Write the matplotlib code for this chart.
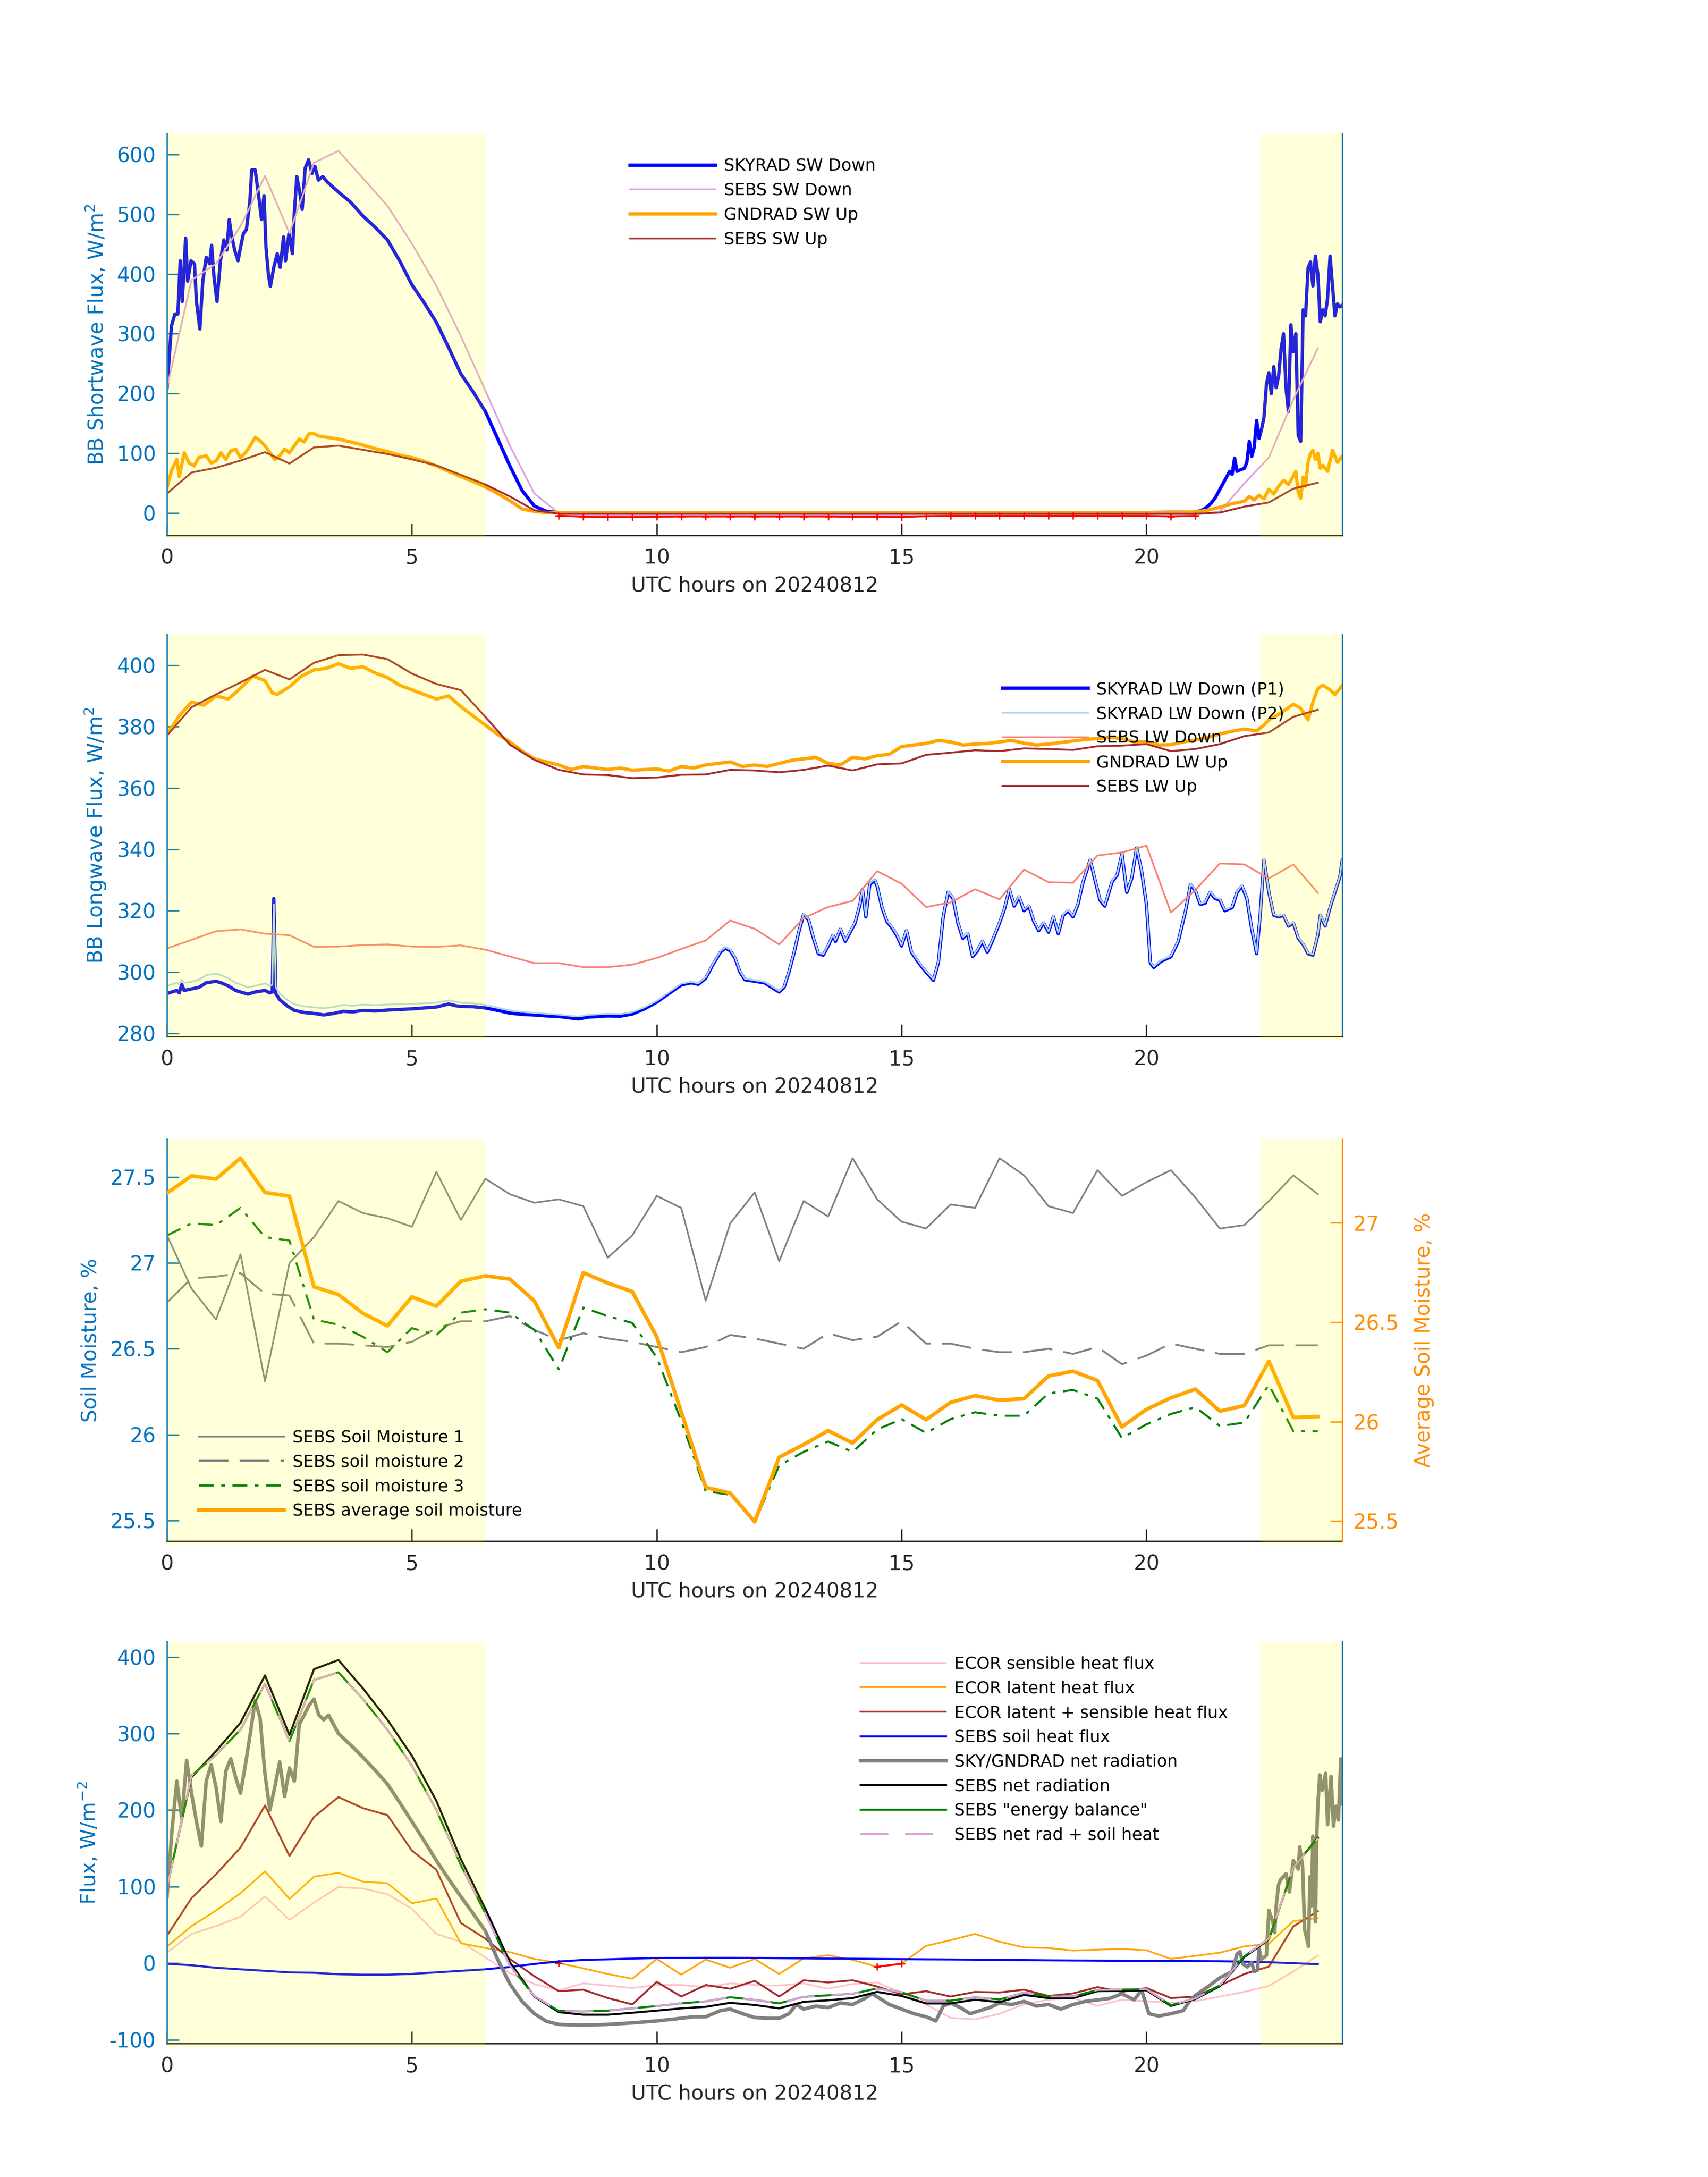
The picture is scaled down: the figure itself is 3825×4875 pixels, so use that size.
import numpy as np
import matplotlib
matplotlib.use('Agg')
import matplotlib.pyplot as plt
from matplotlib.ticker import FuncFormatter

plt.rcParams['font.family'] = ['DejaVu Sans']
plt.rcParams['axes.unicode_minus'] = False
plt.rcParams['lines.scale_dashes'] = False

# ---------------- data ----------------
# SEBS / ECOR half hour time stamps (0 .. 23.5)
half_hours = np.arange(48) * 0.5

# shaded (daylight) periods
shade_spans = [(0.0, 6.5), (22.33, 24.0)]

# panel 1: shortwave
sw_t = [0.0, 0.09, 0.16, 0.22, 0.27, 0.31, 0.38, 0.42, 0.49, 0.56,
        0.6, 0.67, 0.73, 0.8, 0.87, 0.91, 0.96, 1.02, 1.09, 1.16,
        1.22, 1.27, 1.31, 1.38, 1.45, 1.49, 1.56, 1.62, 1.69, 1.73,
        1.8, 1.87, 1.93, 1.98, 2.02, 2.07, 2.11, 2.18, 2.25, 2.31,
        2.38, 2.42, 2.49, 2.56, 2.6, 2.65, 2.71, 2.76, 2.82, 2.89,
        2.96, 3.02, 3.09, 3.18, 3.27, 3.5, 3.75, 4.0, 4.25, 4.5,
        4.75, 5.0, 5.25, 5.5, 5.75, 6.0, 6.25, 6.5, 6.75, 7.0,
        7.25, 7.5, 7.75, 8.0, 9.0, 10.0, 11.0, 12.0, 13.0, 14.0,
        15.0, 16.0, 17.0, 18.0, 19.0, 20.0, 21.0, 21.1, 21.2, 21.3,
        21.4, 21.5, 21.6, 21.7, 21.75, 21.8, 21.85, 21.9, 22.0, 22.05,
        22.1, 22.15, 22.2, 22.25, 22.3, 22.35, 22.4, 22.45, 22.5, 22.55,
        22.6, 22.65, 22.7, 22.75, 22.8, 22.85, 22.9, 22.95, 23.0, 23.05,
        23.1, 23.15, 23.2, 23.25, 23.3, 23.35, 23.4, 23.45, 23.5, 23.55,
        23.6, 23.65, 23.7, 23.75, 23.8, 23.85, 23.9, 23.95, 24.0]
skyrad_sw_down = [210, 313, 333, 333, 422, 354, 460, 388, 422, 417,
                  354, 308, 388, 428, 417, 448, 394, 354, 422, 457,
                  440, 491, 468, 440, 422, 440, 468, 474, 520, 574,
                  574, 531, 491, 531, 445, 399, 379, 411, 434, 411,
                  462, 422, 468, 434, 503, 563, 537, 508, 577, 591,
                  568, 580, 557, 563, 554, 537, 520, 497, 478, 457,
                  422, 382, 352, 319, 277, 233, 203, 170, 125, 79,
                  38, 12, 3, 1, 1, 1, 1, 1, 1, 1,
                  1, 1, 1, 1, 1, 1, 2, 4, 8, 15,
                  25, 40, 55, 70, 65, 92, 70, 72, 75, 85,
                  120, 95, 110, 155, 125, 140, 160, 215, 235, 200,
                  245, 210, 230, 275, 300, 210, 170, 315, 270, 300,
                  130, 120, 340, 330, 410, 420, 380, 430, 400, 320,
                  340, 330, 360, 430, 380, 330, 350, 345, 348]

gsw_t = [0.0, 0.1, 0.2, 0.25, 0.35, 0.45, 0.55, 0.65, 0.8, 0.9,
         1.0, 1.1, 1.2, 1.3, 1.4, 1.5, 1.6, 1.7, 1.8, 1.9,
         2.0, 2.1, 2.2, 2.3, 2.4, 2.5, 2.6, 2.7, 2.8, 2.9,
         3.0, 3.1, 3.25, 3.5, 3.75, 4.0, 4.25, 4.5, 4.75, 5.0,
         5.25, 5.5, 5.75, 6.0, 6.25, 6.5, 6.75, 7.0, 7.25, 7.5,
         7.75, 8.0, 10.0, 12.0, 14.0, 16.0, 18.0, 20.0, 21.0, 21.25,
         21.5, 21.75, 22.0, 22.1, 22.2, 22.3, 22.4, 22.5, 22.6, 22.7,
         22.8, 22.9, 23.0, 23.05, 23.1, 23.15, 23.2, 23.25, 23.3, 23.35,
         23.4, 23.45, 23.5, 23.55, 23.6, 23.7, 23.8, 23.85, 23.9, 24.0]
gndrad_sw_up = [44, 73, 90, 61, 101, 84, 79, 93, 96, 84,
                87, 101, 90, 104, 107, 93, 101, 113, 127, 121,
                113, 101, 90, 96, 107, 101, 113, 124, 119, 133,
                133, 129, 127, 124, 119, 114, 108, 103, 97, 93,
                87, 79, 70, 61, 53, 44, 33, 21, 7, 3,
                1, 1, 1, 1, 1, 1, 1, 1, 2, 5,
                10, 16, 20, 28, 22, 30, 24, 40, 32, 45,
                55, 48, 62, 70, 35, 25, 60, 45, 85, 100,
                105, 90, 100, 75, 80, 70, 105, 95, 85, 95]

sebs_sw_down = [210, 390, 417, 480, 564, 468, 586, 606, 560, 514,
                451, 380, 296, 205, 113, 33, 0, -4, -4, -4,
                -4, -4, -4, -4, -4, -4, -4, -4, -4, -4,
                -4, -4, -4, -4, -4, -4, -4, -4, -4, -4,
                -4, -4, -3, 3, 50, 93, 190, 276]
sebs_sw_up = [33, 68, 76, 88, 102, 83, 110, 113, 106, 99,
              90, 80, 64, 48, 28, 5, -1, -1, -1, -1,
              -1, -1, -1, -1, -1, -1, -1, -1, -1, -1,
              -1, -1, -1, -1, -1, -1, -1, -1, -1, -1,
              -1, -1, -1, 1, 11, 18, 41, 51]
# flagged night values (red +)
flag_t = [8.0, 8.5, 9.0, 9.5, 10.0, 10.5, 11.0, 11.5, 12.0, 12.5,
          13.0, 13.5, 14.0, 14.5, 15.0, 15.5, 16.0, 16.5, 17.0, 17.5,
          18.0, 18.5, 19.0, 19.5, 20.0, 20.5, 21.0]
flag_sw = [-4, -6, -6.5, -6.5, -6, -5.5, -5.5, -5.5, -5.5, -5.5,
           -5.5, -5.5, -6, -6, -6.5, -5, -4.5, -4.5, -4.5, -4.5,
           -4.5, -4.5, -4.5, -4.5, -4.5, -5.5, -4.5]

# panel 2: longwave
lw_t = [0.0, 0.1, 0.2, 0.25, 0.3, 0.35, 0.5, 0.65, 0.8, 1.0,
        1.1, 1.25, 1.4, 1.5, 1.65, 1.8, 2.0, 2.1, 2.15, 2.18,
        2.22, 2.3, 2.45, 2.6, 2.8, 3.0, 3.2, 3.4, 3.6, 3.8,
        4.0, 4.25, 4.5, 4.75, 5.0, 5.25, 5.5, 5.75, 5.9, 6.0,
        6.25, 6.5, 6.75, 7.0, 7.25, 7.5, 7.75, 8.0, 8.25, 8.4,
        8.6, 8.8, 9.0, 9.25, 9.5, 9.75, 10.0, 10.25, 10.5, 10.7,
        10.85, 11.0, 11.15, 11.3, 11.4, 11.5, 11.6, 11.7, 11.8, 12.0,
        12.2, 12.35, 12.5, 12.6, 12.7, 12.8, 12.9, 13.0, 13.1, 13.2,
        13.3, 13.4, 13.5, 13.6, 13.65, 13.75, 13.85, 13.95, 14.05, 14.15,
        14.2, 14.27, 14.35, 14.45, 14.5, 14.6, 14.7, 14.8, 14.9, 15.0,
        15.1, 15.2, 15.35, 15.5, 15.65, 15.75, 15.85, 15.95, 16.05, 16.15,
        16.25, 16.35, 16.45, 16.55, 16.65, 16.75, 16.85, 17.0, 17.1, 17.2,
        17.3, 17.4, 17.5, 17.6, 17.7, 17.8, 17.9, 18.0, 18.1, 18.2,
        18.3, 18.4, 18.5, 18.6, 18.7, 18.85, 18.95, 19.05, 19.15, 19.3,
        19.4, 19.5, 19.6, 19.7, 19.8, 19.9, 20.0, 20.08, 20.15, 20.3,
        20.5, 20.65, 20.8, 20.9, 21.0, 21.1, 21.2, 21.3, 21.4, 21.5,
        21.6, 21.75, 21.85, 21.95, 22.05, 22.15, 22.25, 22.32, 22.4, 22.5,
        22.6, 22.7, 22.8, 22.9, 23.0, 23.1, 23.2, 23.3, 23.4, 23.5,
        23.55, 23.65, 23.75, 23.85, 23.95, 24.0]
skyrad_lw_p1 = [293.0, 293.5, 294.0, 293.2, 296.0, 294.0, 294.5, 295.0, 296.5, 297.0,
                296.5, 295.5, 294.0, 293.5, 292.8, 293.5, 294.0, 293.2, 293.5, 324.0,
                293.0, 291.0, 289.0, 287.5, 286.8, 286.5, 286.0, 286.5, 287.2, 287.0,
                287.5, 287.3, 287.6, 287.8, 288.0, 288.3, 288.6, 289.6, 289.0, 288.8,
                288.7, 288.3, 287.5, 286.6, 286.2, 286.0, 285.7, 285.5, 285.0, 284.7,
                285.3, 285.5, 285.7, 285.6, 286.3, 288.0, 290.2, 293.0, 295.8, 296.5,
                296.0, 298.0, 302.5, 306.5, 307.8, 307.0, 304.5, 300.0, 297.5, 297.0,
                296.5, 295.0, 293.5, 295.0, 300.0, 306.0, 313.0, 318.8, 317.0, 311.0,
                306.0, 305.5, 308.5, 312.0, 310.0, 314.0, 310.0, 313.0, 316.0, 322.0,
                327.0, 318.0, 328.5, 330.0, 328.0, 321.0, 316.5, 314.5, 312.0, 308.5,
                313.5, 306.5, 303.0, 300.0, 297.3, 303.0, 318.0, 326.0, 324.0, 316.0,
                311.0, 312.5, 305.0, 307.0, 310.0, 306.5, 310.0, 316.0, 320.5, 327.0,
                321.5, 324.5, 320.0, 321.5, 316.5, 313.5, 316.0, 313.0, 318.0, 312.5,
                318.5, 320.0, 318.0, 322.0, 329.0, 336.5, 330.0, 323.5, 321.5, 329.5,
                331.5, 338.5, 326.0, 330.5, 340.5, 333.0, 322.0, 303.0, 301.5, 303.5,
                305.0, 310.0, 320.0, 328.5, 326.5, 322.0, 322.5, 326.0, 324.0, 323.5,
                320.0, 321.0, 326.0, 328.0, 324.0, 314.0, 306.0, 318.0, 336.5, 326.0,
                318.5, 318.0, 318.5, 315.0, 316.0, 311.0, 309.0, 306.0, 305.5, 312.0,
                318.5, 315.0, 321.0, 326.0, 331.0, 336.5]
skyrad_lw_p2 = [295.5, 296.0, 296.5, 296.0, 297.5, 296.5, 296.8, 297.5, 299.0, 299.5,
                299.0, 298.0, 296.5, 296.0, 295.0, 295.5, 296.3, 295.5, 295.8, 322.0,
                295.0, 293.0, 291.0, 289.5, 288.8, 288.5, 288.2, 288.6, 289.3, 289.0,
                289.4, 289.2, 289.4, 289.5, 289.6, 289.8, 290.0, 290.8, 290.3, 290.0,
                289.8, 289.3, 288.4, 287.5, 287.0, 286.7, 286.4, 286.1, 285.7, 285.5,
                286.0, 286.2, 286.4, 286.3, 286.9, 288.5, 290.6, 293.4, 296.2, 296.8,
                296.3, 298.3, 302.8, 306.8, 308.1, 307.3, 304.8, 300.3, 297.8, 297.3,
                296.8, 295.3, 293.8, 295.3, 300.3, 306.3, 313.3, 319.1, 317.3, 311.3,
                306.3, 305.8, 308.8, 312.3, 310.3, 314.3, 310.3, 313.3, 316.3, 322.3,
                327.3, 318.3, 328.8, 330.3, 328.3, 321.3, 316.8, 314.8, 312.3, 308.8,
                313.8, 306.8, 303.3, 300.3, 297.6, 303.3, 318.3, 326.3, 324.3, 316.3,
                311.3, 312.8, 305.3, 307.3, 310.3, 306.8, 310.3, 316.3, 320.8, 327.3,
                321.8, 324.8, 320.3, 321.8, 316.8, 313.8, 316.3, 313.3, 318.3, 312.8,
                318.8, 320.3, 318.3, 322.3, 329.3, 336.8, 330.3, 323.8, 321.8, 329.8,
                331.8, 338.8, 326.3, 330.8, 340.8, 333.3, 322.3, 303.3, 301.8, 303.8,
                305.3, 310.3, 320.3, 328.8, 326.8, 322.3, 322.8, 326.3, 324.3, 323.8,
                320.3, 321.3, 326.3, 328.3, 324.3, 314.3, 306.3, 318.3, 336.8, 326.3,
                318.8, 318.3, 318.8, 315.3, 316.3, 311.3, 309.3, 306.3, 305.8, 312.3,
                318.8, 315.3, 321.3, 326.3, 331.3, 336.8]

glw_t = [0.0, 0.25, 0.5, 0.75, 1.0, 1.25, 1.5, 1.75, 2.0, 2.15,
         2.25, 2.5, 2.75, 3.0, 3.25, 3.5, 3.75, 4.0, 4.25, 4.5,
         4.75, 5.0, 5.25, 5.5, 5.75, 6.0, 6.25, 6.5, 6.75, 7.0,
         7.25, 7.5, 7.75, 8.0, 8.25, 8.5, 8.75, 9.0, 9.25, 9.5,
         9.75, 10.0, 10.25, 10.5, 10.75, 11.0, 11.25, 11.5, 11.75, 12.0,
         12.25, 12.5, 12.75, 13.0, 13.25, 13.5, 13.75, 14.0, 14.25, 14.5,
         14.75, 15.0, 15.25, 15.5, 15.75, 16.0, 16.25, 16.5, 16.75, 17.0,
         17.25, 17.5, 17.75, 18.0, 18.25, 18.5, 18.75, 19.0, 19.25, 19.5,
         19.75, 20.0, 20.25, 20.5, 20.75, 21.0, 21.25, 21.5, 21.75, 22.0,
         22.25, 22.4, 22.5, 22.75, 23.0, 23.15, 23.3, 23.4, 23.5, 23.6,
         23.75, 23.85, 24.0]
gndrad_lw_up = [377.5, 383.5, 388.0, 387.0, 390.0, 389.0, 392.5, 396.5, 395.0, 391.0,
                390.5, 393.0, 396.5, 398.5, 399.0, 400.5, 399.0, 399.5, 397.5, 396.0,
                393.5, 392.0, 390.5, 389.0, 390.0, 386.5, 383.5, 380.5, 377.5, 375.0,
                372.0, 369.5, 368.5, 367.5, 366.0, 367.0, 366.5, 366.0, 366.5, 365.8,
                366.0, 366.2, 365.5, 367.0, 366.5, 367.5, 368.0, 368.5, 367.0, 367.5,
                367.0, 368.0, 369.0, 369.5, 370.0, 368.0, 367.5, 370.0, 369.5, 370.5,
                371.0, 373.5, 374.0, 374.5, 375.5, 375.0, 374.0, 374.3, 374.5, 375.0,
                375.5, 374.6, 374.0, 374.3, 374.8, 375.3, 375.8, 376.1, 376.5, 376.1,
                375.0, 375.1, 374.0, 374.1, 375.0, 375.6, 376.5, 377.6, 378.5, 379.2,
                378.6, 380.5, 382.2, 384.5, 387.3, 386.0, 382.2, 388.0, 392.4, 393.5,
                392.0, 390.5, 393.4]

sebs_lw_down = [307.7, 310.5, 313.3, 313.9, 312.5, 312.0, 308.2, 308.3, 308.8, 309.0,
                308.3, 308.2, 308.7, 307.3, 305.1, 302.9, 302.9, 301.6, 301.6, 302.4,
                304.6, 307.5, 310.3, 316.8, 314.1, 309.0, 317.6, 321.2, 323.2, 332.9,
                328.8, 321.2, 322.7, 327.0, 323.7, 333.4, 329.3, 329.1, 338.0, 339.0,
                341.2, 319.4, 326.8, 335.4, 335.1, 330.5, 335.1, 325.8]
sebs_lw_up = [377.1, 386.3, 390.5, 394.4, 398.5, 395.4, 400.8, 403.3, 403.5, 402.0,
              397.3, 393.9, 391.9, 383.2, 374.1, 369.2, 365.9, 364.4, 364.2, 363.2,
              363.4, 364.3, 364.4, 365.9, 365.7, 365.1, 365.9, 367.3, 365.7, 367.7,
              368.0, 370.8, 371.5, 372.3, 372.0, 372.9, 372.7, 372.4, 373.6, 373.8,
              374.3, 372.0, 372.7, 374.3, 376.9, 378.1, 383.2, 385.5]

# panel 3: soil moisture
soil_1 = [27.16, 26.85, 26.67, 27.05, 26.31, 27.00, 27.15, 27.36, 27.29, 27.26,
          27.21, 27.53, 27.25, 27.49, 27.40, 27.35, 27.37, 27.33, 27.03, 27.16,
          27.39, 27.32, 26.78, 27.23, 27.41, 27.01, 27.36, 27.27, 27.61, 27.37,
          27.24, 27.20, 27.34, 27.32, 27.61, 27.51, 27.33, 27.29, 27.54, 27.39,
          27.47, 27.54, 27.38, 27.20, 27.22, 27.36, 27.51, 27.40]
soil_2 = [26.77, 26.91, 26.92, 26.94, 26.82, 26.81, 26.53, 26.53, 26.52, 26.51,
          26.54, 26.62, 26.66, 26.66, 26.69, 26.61, 26.55, 26.59, 26.56, 26.54,
          26.51, 26.48, 26.51, 26.58, 26.56, 26.53, 26.50, 26.59, 26.55, 26.57,
          26.66, 26.53, 26.53, 26.50, 26.48, 26.48, 26.50, 26.47, 26.51, 26.41,
          26.46, 26.53, 26.50, 26.47, 26.47, 26.52, 26.52, 26.52]
soil_3 = [27.16, 27.23, 27.22, 27.32, 27.15, 27.13, 26.67, 26.64, 26.57, 26.48,
          26.62, 26.58, 26.71, 26.73, 26.71, 26.61, 26.38, 26.74, 26.69, 26.65,
          26.45, 26.08, 25.67, 25.65, 25.49, 25.82, 25.90, 25.96, 25.90, 26.03,
          26.09, 26.01, 26.09, 26.13, 26.11, 26.11, 26.24, 26.26, 26.21, 25.98,
          26.06, 26.12, 26.16, 26.05, 26.07, 26.29, 26.02, 26.02]
soil_avg = [27.149, 27.236, 27.220, 27.325, 27.152, 27.134, 26.678, 26.639, 26.545, 26.482,
            26.628, 26.581, 26.706, 26.733, 26.717, 26.607, 26.372, 26.749, 26.697, 26.654,
            26.427, 26.050, 25.670, 25.641, 25.497, 25.822, 25.885, 25.955, 25.893, 26.010,
            26.084, 26.010, 26.097, 26.131, 26.108, 26.116, 26.230, 26.254, 26.207, 25.974,
            26.062, 26.120, 26.164, 26.053, 26.081, 26.304, 26.021, 26.026]

# panel 4: surface energy fluxes
ecor_sensible = [13.7, 38.2, 48.4, 60.7, 87.2, 56.6, 79.1, 99.5, 97.5, 90.1,
                 71.0, 38.2, 28.0, 7.5, -13.0, -27.2, -35.4, -26.4, -29.3, -32.5,
                 -28.5, -28.5, -31.3, -26.4, -28.5, -29.3, -26.4, -33.4, -27.2, -25.2,
                 -38.7, -53.8, -71.4, -73.4, -66.1, -53.8, -47.7, -45.6, -55.8, -47.7,
                 -49.7, -51.8, -49.7, -43.6, -37.5, -29.7, -10.9, 10.0]
ecor_latent = [21.8, 48.4, 68.8, 91.3, 120.0, 84.0, 113.0, 118.0, 106.5, 104.4,
               78.3, 84.4, 26.0, 19.8, 14.5, 5.5, 0.2, -6.8, -14.1, -20.3,
               5.5, -15.0, 4.7, -6.0, 5.5, -14.1, 6.3, 10.4, 4.2, -4.7,
               -0.7, 22.6, 30.0, 38.2, 28.0, 20.6, 19.8, 16.5, 17.7, 18.6,
               16.9, 5.5, 9.6, 13.7, 22.0, 25.3, 55.0, 59.0]
ecor_total = [36, 85, 116, 151, 206, 140, 191, 217, 202.5, 193.5,
              147, 122, 52.5, 32, 5.5, -17, -36.6, -34.6, -45.6, -53.8,
              -24.4, -43.6, -28.5, -33.4, -23.1, -43.6, -22.3, -25.2, -22.3, -30.5,
              -40.7, -36.6, -43.6, -37.5, -38.3, -34.6, -42.8, -39.5, -31.3, -37.5,
              -32.5, -45.6, -43.6, -29.3, -14.1, -4.4, 48.0, 68.0]
sebs_soil_heat = [-0.7, -2.7, -6.0, -8.0, -10.0, -12.0, -12.5, -14.5, -15.0, -15.0,
                  -14.0, -12.0, -10.0, -8.0, -5.0, -1.0, 2.2, 4.2, 5.0, 6.0,
                  6.7, 6.8, 7.0, 7.0, 6.8, 6.5, 6.3, 6.0, 5.8, 5.5,
                  5.3, 5.0, 4.8, 4.5, 4.2, 4.0, 3.7, 3.5, 3.3, 3.1,
                  2.9, 2.9, 2.7, 2.5, 2.0, 1.2, 0.0, -1.3]
sebs_net_rad = [100, 243, 277, 314, 376, 298, 384, 396, 359, 318,
                271, 212, 136, 71, 1.4, -43.6, -64, -67.3, -67.3, -64.8,
                -62, -59, -57, -51.8, -54.6, -59, -50.5, -48.5, -45.6, -37.5,
                -42.8, -52.6, -52.6, -47.7, -50.9, -41.5, -45.6, -45.6, -36.6, -36.2,
                -35.4, -55.8, -46.9, -30, 8, 31, 125, 164]
sebs_energy_bal = [99, 245, 272, 305, 365, 290, 370, 380, 345, 305,
                   258, 200, 128, 65, -3, -43, -62.5, -63, -62, -59,
                   -56, -52.5, -50, -44.5, -48, -52.5, -44, -42, -40, -33,
                   -38, -49, -49, -44.5, -47.5, -38.5, -43.5, -43.5, -35, -34.5,
                   -34, -55, -46, -29, 9, 32, 125, 163]
sebs_netrad_soil = [99, 245, 272, 305, 365, 290, 370, 380, 345, 305,
                    258, 200, 128, 65, -3, -43, -62.5, -63, -62, -59,
                    -56, -52.5, -50, -44.5, -48, -52.5, -44, -42, -40, -33,
                    -38, -49, -49, -44.5, -47.5, -38.5, -43.5, -43.5, -35, -34.5,
                    -34, -55, -46, -29, 9, 32, 125, 163]
# flagged latent heat values (red)
flag_lat_t = [8.0, np.nan, 14.5, 15.0]
flag_lat = [0.2, np.nan, -4.7, -0.7]

nr_t = [0.0, 0.1, 0.2, 0.3, 0.4, 0.5, 0.6, 0.7, 0.8, 0.9,
        1.0, 1.1, 1.2, 1.3, 1.4, 1.5, 1.6, 1.7, 1.8, 1.9,
        2.0, 2.1, 2.2, 2.3, 2.4, 2.5, 2.6, 2.7, 2.8, 2.9,
        3.0, 3.1, 3.2, 3.3, 3.4, 3.5, 3.75, 4.0, 4.25, 4.5,
        4.75, 5.0, 5.25, 5.5, 5.75, 6.0, 6.25, 6.5, 6.75, 7.0,
        7.25, 7.5, 7.75, 8.0, 8.5, 9.0, 9.5, 10.0, 10.5, 10.75,
        11.0, 11.3, 11.5, 11.75, 12.0, 12.25, 12.5, 12.7, 12.85, 13.0,
        13.25, 13.5, 13.75, 14.0, 14.25, 14.4, 14.5, 14.75, 15.0, 15.25,
        15.5, 15.7, 15.85, 16.0, 16.2, 16.4, 16.6, 16.8, 17.0, 17.25,
        17.5, 17.75, 18.0, 18.25, 18.5, 18.75, 19.0, 19.25, 19.5, 19.75,
        19.9, 20.05, 20.25, 20.5, 20.75, 20.9, 21.0, 21.25, 21.5, 21.75,
        21.85, 21.91, 21.97, 22.06, 22.15, 22.2, 22.27, 22.3, 22.35, 22.45,
        22.5, 22.58, 22.62, 22.65, 22.7, 22.74, 22.85, 22.92, 23.0, 23.1,
        23.13, 23.19, 23.23, 23.31, 23.34, 23.37, 23.4, 23.45, 23.48, 23.5,
        23.54, 23.59, 23.66, 23.7, 23.77, 23.82, 23.87, 23.92, 23.97, 24.0]
sky_gnd_net_rad = [87, 173, 238, 189, 265, 222, 185, 153, 238, 259,
                   230, 185, 251, 267, 243, 222, 259, 300, 343, 320,
                   247, 200, 230, 263, 218, 255, 238, 312, 324, 337,
                   345, 324, 318, 324, 312, 300, 285, 269, 252, 234,
                   210, 185, 160, 134, 110, 87, 65, 42, 5, -27,
                   -50, -66, -76, -80, -81, -80, -78, -75.5, -72, -70,
                   -70, -62, -60, -66, -71, -72, -72, -66, -54, -60,
                   -56, -58, -52, -54, -46, -40, -44, -54, -60, -66,
                   -70, -75.5, -56, -52, -58, -66, -62, -58, -52, -54,
                   -50, -56, -54, -60, -54, -50, -48, -46, -40, -48,
                   -35, -66, -69, -66, -62, -48, -42, -31, -19, -11,
                   12, 15, -1, -5, 1, -11, -9, 19, 5, 10,
                   69, 54, 40, 75, 103, 109, 117, 93, 134, 123,
                   152, 125, 44, 22, 113, 75, 166, 54, 170, 207,
                   246, 226, 248, 181, 244, 179, 205, 187, 267, 208]

# ---------------- styling helpers ----------------
axblue = '#0072BD'
dark = '#262626'
avg_orange = '#FF8C00'

fig = plt.figure(figsize=(12.75, 16.25), dpi=300)

ax_left = 0.0978
ax_width = 0.6881
ax_height = 0.1846
bottoms = [0.7541, 0.5239, 0.2921, 0.0613]


def style_axes(ax, ylim, yticks, right_color=axblue):
    ax.set_xlim(0, 24)
    ax.set_ylim(*ylim)
    ax.set_xticks([0, 5, 10, 15, 20])
    ax.set_yticks(yticks)
    ax.yaxis.set_major_formatter(FuncFormatter(lambda v, p: '%g' % v))
    ax.tick_params(axis='y', direction='in', length=6.5, width=0.8,
                   colors=axblue, labelsize=11, pad=6)
    ax.tick_params(axis='x', direction='in', length=6.5, width=0.8,
                   colors=dark, labelsize=11, pad=7)
    ax.spines['top'].set_visible(False)
    ax.spines['left'].set_color(axblue)
    ax.spines['right'].set_color(right_color)
    ax.spines['bottom'].set_color(dark)
    for s in ax.spines.values():
        s.set_linewidth(0.8)
    ax.set_xlabel('UTC hours on 20240812', fontsize=11, color=dark)


def shade(ax):
    # light yellow drawn over the data, like the original
    for a, b in shade_spans:
        ax.axvspan(a, b, ymin=-0.009, ymax=1, color='yellow', alpha=0.15,
                   lw=0, zorder=10, clip_on=False)


def add_legend(ax, handles, x, y):
    leg = ax.legend(handles=handles, loc='upper left', bbox_to_anchor=(x, y),
                    frameon=False, fontsize=9, handlelength=5.1,
                    handletextpad=0.5, labelspacing=0.5, borderpad=0,
                    borderaxespad=0)
    leg.set_zorder(20)


# ---------------- panel 1: shortwave ----------------
ax1 = fig.add_axes([ax_left, bottoms[0], ax_width, ax_height])
h1 = ax1.plot(sw_t, skyrad_sw_down, color='blue', lw=1.8, label='SKYRAD SW Down')[0]
h2 = ax1.plot(half_hours, sebs_sw_down, color='plum', lw=0.9, label='SEBS SW Down')[0]
h3 = ax1.plot(gsw_t, gndrad_sw_up, color='orange', lw=1.8, label='GNDRAD SW Up')[0]
h4 = ax1.plot(half_hours, sebs_sw_up, color='brown', lw=1.0, label='SEBS SW Up')[0]
ax1.plot(flag_t, flag_sw, color='red', lw=1.0, marker='+', ms=4, mew=0.8)
style_axes(ax1, (-37, 635), np.arange(0, 700, 100))
ax1.set_ylabel('BB Shortwave Flux, W/m$^2$', fontsize=11, color=axblue, labelpad=5)
shade(ax1)
add_legend(ax1, [h1, h2, h3, h4], 0.394, 0.938)

# ---------------- panel 2: longwave ----------------
ax2 = fig.add_axes([ax_left, bottoms[1], ax_width, ax_height])
g1 = ax2.plot(lw_t, skyrad_lw_p1, color='blue', lw=1.8, label='SKYRAD LW Down (P1)')[0]
g2 = ax2.plot(lw_t, skyrad_lw_p2, color='lightblue', lw=0.9, label='SKYRAD LW Down (P2)')[0]
g3 = ax2.plot(half_hours, sebs_lw_down, color='salmon', lw=0.9, label='SEBS LW Down')[0]
g4 = ax2.plot(glw_t, gndrad_lw_up, color='orange', lw=1.8, label='GNDRAD LW Up')[0]
g5 = ax2.plot(half_hours, sebs_lw_up, color='brown', lw=1.0, label='SEBS LW Up')[0]
style_axes(ax2, (279, 410), np.arange(280, 420, 20))
ax2.set_ylabel('BB Longwave Flux, W/m$^2$', fontsize=11, color=axblue, labelpad=5)
shade(ax2)
add_legend(ax2, [g1, g2, g3, g4, g5], 0.711, 0.883)

# ---------------- panel 3: soil moisture ----------------
ax3 = fig.add_axes([ax_left, bottoms[2], ax_width, ax_height])
s1 = ax3.plot(half_hours, soil_1, color='gray', lw=0.9, label='SEBS Soil Moisture 1')[0]
s2 = ax3.plot(half_hours, soil_2, color='gray', lw=1.0, ls=(0, (16, 6)),
              label='SEBS soil moisture 2')[0]
s3 = ax3.plot(half_hours, soil_3, color='green', lw=1.1, ls=(0, (8, 4, 2, 4)),
              label='SEBS soil moisture 3')[0]
style_axes(ax3, (25.38, 27.72), [25.5, 26, 26.5, 27, 27.5])
ax3.spines['right'].set_visible(False)
ax3.set_ylabel('Soil Moisture, %', fontsize=11, color=axblue, labelpad=5)

ax3r = ax3.twinx()
s4 = ax3r.plot(half_hours, soil_avg, color='orange', lw=2.0,
               label='SEBS average soil moisture')[0]
ax3r.set_xlim(0, 24)
ax3r.set_ylim(25.40, 27.42)
ax3r.set_yticks([25.5, 26, 26.5, 27])
ax3r.yaxis.set_major_formatter(FuncFormatter(lambda v, p: '%g' % v))
ax3r.tick_params(axis='y', direction='in', length=6.5, width=0.8,
                 colors=avg_orange, labelsize=11, pad=6)
for side in ['top', 'left', 'bottom']:
    ax3r.spines[side].set_visible(False)
ax3r.spines['right'].set_color(avg_orange)
ax3r.spines['right'].set_linewidth(0.8)
ax3r.set_ylabel('Average Soil Moisture, %', fontsize=11, color=avg_orange, labelpad=8)
shade(ax3r)
add_legend(ax3r, [s1, s2, s3, s4], 0.027, 0.277)

# ---------------- panel 4: energy fluxes ----------------
ax4 = fig.add_axes([ax_left, bottoms[3], ax_width, ax_height])
f1 = ax4.plot(half_hours, ecor_sensible, color='pink', lw=0.9, label='ECOR sensible heat flux')[0]
f2 = ax4.plot(half_hours, ecor_latent, color='orange', lw=0.9, label='ECOR latent heat flux')[0]
ax4.plot(flag_lat_t, flag_lat, color='red', lw=1.0, marker='+', ms=4, mew=0.8)
f3 = ax4.plot(half_hours, ecor_total, color='brown', lw=1.0,
              label='ECOR latent + sensible heat flux')[0]
f4 = ax4.plot(half_hours, sebs_soil_heat, color='blue', lw=1.1, label='SEBS soil heat flux')[0]
f5 = ax4.plot(nr_t, sky_gnd_net_rad, color='gray', lw=1.9, label='SKY/GNDRAD net radiation')[0]
f6 = ax4.plot(half_hours, sebs_net_rad, color='black', lw=1.1, label='SEBS net radiation')[0]
f7 = ax4.plot(half_hours, sebs_energy_bal, color='green', lw=1.1,
              label='SEBS "energy balance"')[0]
f8 = ax4.plot(half_hours, sebs_netrad_soil, color='plum', lw=1.0, ls=(0, (15, 9)),
              label='SEBS net rad + soil heat')[0]
style_axes(ax4, (-105, 420), np.arange(-100, 500, 100))
ax4.set_ylabel('Flux, W/m$^{-2}$', fontsize=11, color=axblue, labelpad=5)
shade(ax4)
add_legend(ax4, [f1, f2, f3, f4, f5, f6, f7, f8], 0.590, 0.964)

fig.savefig('out.png', dpi=300)
